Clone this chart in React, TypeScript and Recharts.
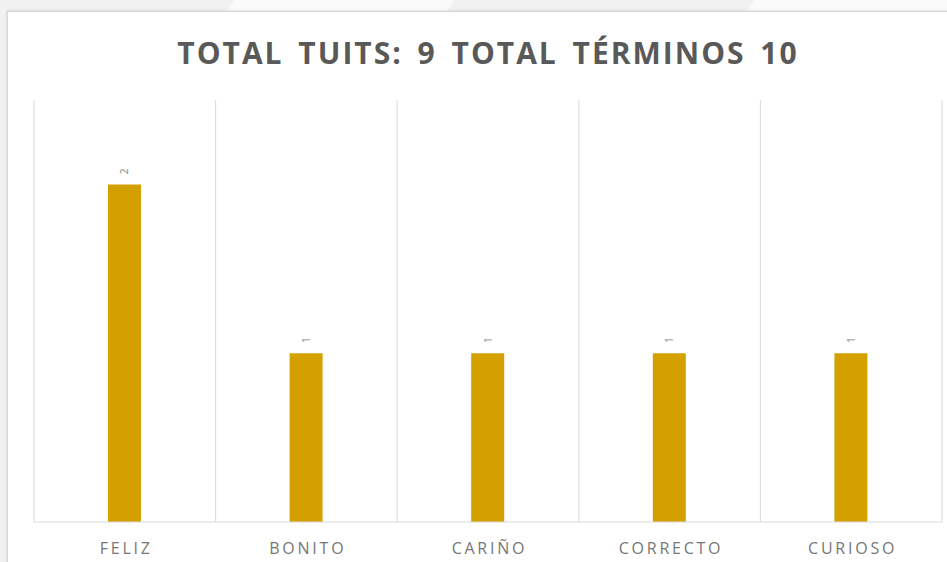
import React from "react";
import { BarChart, Bar, XAxis, YAxis, CartesianGrid, LabelList } from "recharts";

const categories = ["FELIZ", "BONITO", "CARIÑO", "CORRECTO", "CURIOSO"];
const counts = [2, 1, 1, 1, 1];
const title = "TOTAL TUITS: 9 TOTAL TÉRMINOS 10";

const data = categories.map((c, i) => ({ name: c, value: counts[i] }));

const RotLabel = (props: any) => {
  const { x, y, width, value } = props;
  const cx = x + width / 2;
  const cy = y - 13;
  return (
    <text
      x={cx}
      y={cy}
      transform={`rotate(-90 ${cx} ${cy})`}
      textAnchor="middle"
      dominantBaseline="central"
      fontSize={10}
      fill="#7f7f7f"
      fontFamily="'Open Sans', sans-serif"
    >
      {value}
    </text>
  );
};

const Tick = (props: any) => {
  const { x, y, payload } = props;
  return (
    <text
      x={x + 1.4}
      y={y + 24}
      textAnchor="middle"
      fontSize={16}
      fill="#777777"
      letterSpacing={2.75}
      fontFamily="'Open Sans', sans-serif"
    >
      {payload.value}
    </text>
  );
};

export default function App() {
  return (
    <div style={{ position: "absolute", left: 0, top: 0, width: 947, height: 562, background: "#f1f1f1", overflow: "hidden" }}>
      <div style={{ position: "absolute", left: 240, top: -40, width: 220, height: 60, background: "#fafafa", transform: "skewX(-30deg)" }} />
      <div style={{ position: "absolute", left: 760, top: -40, width: 300, height: 60, background: "#fafafa", transform: "skewX(-30deg)" }} />
      <div
        style={{
          position: "absolute",
          left: 7,
          top: 11,
          width: 960,
          height: 580,
          background: "#ffffff",
          border: "1px solid #d6d6d6",
          boxShadow: "0 0 3px rgba(0,0,0,0.15)",
        }}
      />
      <div
        style={{
          position: "absolute",
          left: 0,
          top: 32,
          width: 976,
          textAlign: "center",
          fontFamily: "'Open Sans', sans-serif",
          fontWeight: 700,
          fontSize: 30,
          letterSpacing: 2,
          wordSpacing: 5,
          color: "#595959",
          whiteSpace: "nowrap",
        }}
      >
        {title}
      </div>
      <div style={{ position: "absolute", left: 0, top: 0 }}>
        <BarChart width={947} height={562} data={data} margin={{ top: 100, left: 34, right: 5, bottom: 10 }}>
          <CartesianGrid
            horizontal={false}
            stroke="#d9d9d9"
            verticalCoordinatesGenerator={({ offset }: any) =>
              categories.map((_, i) => offset.left + ((i + 1) * offset.width) / categories.length).concat([offset.left])
            }
          />
          <XAxis
            dataKey="name"
            height={30}
            tickLine={false}
            axisLine={{ stroke: "#d9d9d9" }}
            tick={<Tick />}
            interval={0}
          />
          <YAxis hide domain={[0, 2.5]} />
          <Bar dataKey="value" fill="#d4a000" barSize={33} isAnimationActive={false}>
            <LabelList dataKey="value" content={<RotLabel />} />
          </Bar>
        </BarChart>
      </div>
    </div>
  );
}
